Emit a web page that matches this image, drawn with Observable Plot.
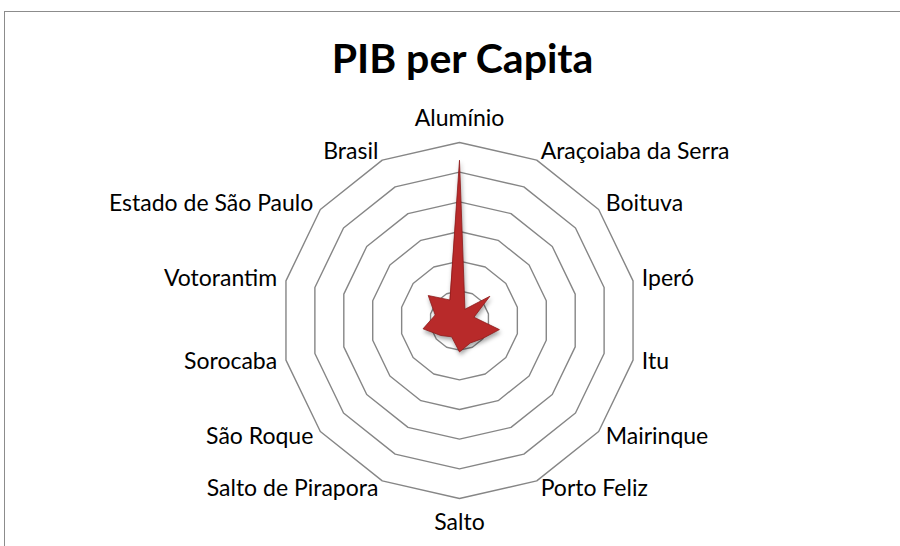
<!DOCTYPE html>
<html>
<head>
<meta charset="utf-8">
<script src="https://cdn.jsdelivr.net/npm/d3@7"></script>
<script src="https://cdn.jsdelivr.net/npm/@observablehq/plot@0.6"></script>
<style>
  html, body { margin: 0; padding: 0; background: #fff; }
  #wrap { position: relative; width: 900px; height: 546px; overflow: hidden; }
  #wrap::before { content: ""; position: absolute; left: 4px; top: 11px; width: 1000px; height: 1000px;
    border-left: 1px solid #8c8c8c; border-top: 1px solid #8c8c8c; pointer-events: none; }
  .series path { filter: drop-shadow(1px 3px 2px rgba(0,0,0,0.35)); }
</style>
</head>
<body>
<div id="wrap"></div>
<script>
const title = "PIB per Capita";
const categories = ["Alumínio","Araçoiaba da Serra","Boituva","Iperó","Itu","Mairinque","Porto Feliz","Salto","Salto de Pirapora","São Roque","Sorocaba","Votorantim","Estado de São Paulo","Brasil"];
const values = [107800, 8400, 26200, 10000, 27600, 19600, 16800, 21200, 12200, 16200, 25200, 16800, 27000, 15400];
const ringLevels = [20000, 40000, 60000, 80000, 100000, 120000];

const W = 900, H = 546;
const cx = 459, cy = 320, radiusPx = 178;
const maxV = d3.max(ringLevels);
const k = maxV / radiusPx; // data units per pixel
const n = categories.length;
const ang = i => i * 2 * Math.PI / n;

const seriesPts = categories.map((c, i) => ({c, x: values[i] * Math.sin(ang(i)), y: values[i] * Math.cos(ang(i))}));
const ringPts = ringLevels.flatMap(r => categories.map((c, i) => ({r, x: r * Math.sin(ang(i)), y: r * Math.cos(ang(i))})));
const labels = categories.map((c, i) => {
  const s = Math.sin(ang(i)), co = Math.cos(ang(i));
  const vertical = Math.abs(s) < 0.01;
  const R = maxV + (vertical ? 24 : 9) * k;
  return {c, x: R * s, y: R * co,
    anchor: s > 0.01 ? "start" : s < -0.01 ? "end" : "middle"};
});
const font = "Lato, 'Open Sans', sans-serif";

const textOpts = (anchor) => ({x: "x", y: "y", text: "c", textAnchor: anchor, lineAnchor: "middle", fontSize: 23, fill: "#000", fontFamily: font});

const chart = Plot.plot({
  width: W, height: H,
  margin: 0,
  x: {domain: [-cx * k, (W - cx) * k], range: [0, W], axis: null},
  y: {domain: [-(H - cy) * k, cy * k], range: [H, 0], axis: null},
  style: {fontFamily: font, background: "transparent"},
  marks: [
    Plot.line(ringPts, {x: "x", y: "y", z: "r", curve: "linear-closed", stroke: "#868686", strokeWidth: 1.4}),
    Plot.line(seriesPts, {x: "x", y: "y", curve: "linear-closed", fill: "#b82a2a", stroke: "#8e1b1b", strokeWidth: 0.8, className: "series"}),
    Plot.text(labels.filter(d => d.anchor === "start"), textOpts("start")),
    Plot.text(labels.filter(d => d.anchor === "end"), textOpts("end")),
    Plot.text(labels.filter(d => d.anchor === "middle"), textOpts("middle")),
    Plot.text([title], {frameAnchor: "top", lineAnchor: "middle", dx: 12, dy: 59, text: d => d, fontSize: 41, fontWeight: "bold", fill: "#000", fontFamily: font})
  ]
});
document.getElementById("wrap").appendChild(chart);
</script>
</body>
</html>
